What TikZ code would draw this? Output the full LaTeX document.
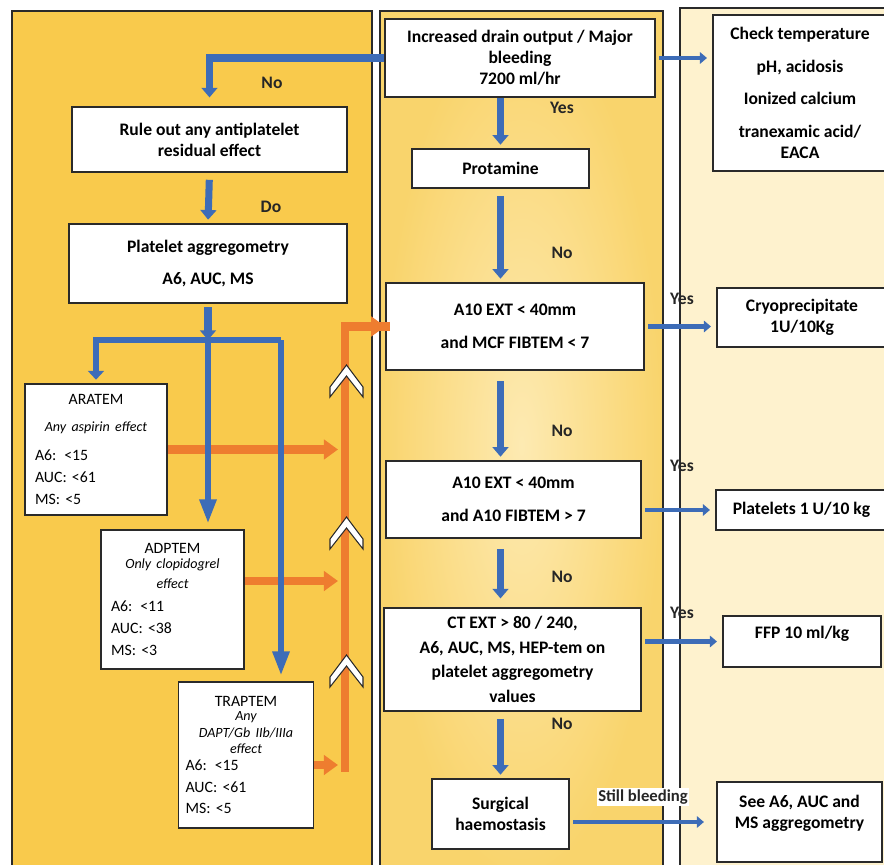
\documentclass[tikz,border=0pt]{standalone}
\usepackage{fontspec}
\setmainfont{Carlito}
\usetikzlibrary{arrows.meta,shadings}

\definecolor{panelA}{HTML}{F9CA4C}
\definecolor{panelB}{HTML}{F9D46C}
\definecolor{panelBlight}{HTML}{FDEAB2}
\definecolor{panelC}{HTML}{FEF2CE}
\definecolor{flowblue}{HTML}{3D6CB7}
\definecolor{floworange}{HTML}{EE7D2F}
\definecolor{edge}{HTML}{2A2A2A}
\newcommand{\effect}[1]{{\fontsize{8}{9.6}\selectfont\itshape #1}}

\begin{document}
\begin{tikzpicture}[x=0.02cm,y=-0.02cm,
    box/.style={draw=edge, line width=0.9pt, fill=white, align=center, font=\bfseries, inner sep=0pt},
    testbox/.style={draw=edge, line width=0.9pt, fill=white, align=left, font=\fontsize{9}{10.4}\selectfont, inner xsep=0.2cm, inner ysep=0pt},
    down/.style={draw=flowblue, line width=4pt, shorten <=4pt, shorten >=2pt, -{Triangle[width=9pt,length=5.5pt]}},
    probe/.style={draw=flowblue, line width=3.5pt, -{Triangle[width=9pt,length=14pt]}},
    side/.style={draw=flowblue, line width=2.6pt, shorten <=2pt, shorten >=3pt, -{Triangle[width=6.5pt,length=4pt]}},
    feed/.style={draw=floworange, line width=5pt, -{Triangle[width=11pt,length=8pt]}},
    tag/.style={font=\bfseries\fontsize{10}{12}\selectfont, text=black!85, inner sep=1pt}]
\useasboundingbox (0,0) rectangle (884,864);

% panels
\fill[white] (0,0) rectangle (884,864);
\filldraw[fill=panelA, draw=edge, line width=0.8pt] (12,11) rectangle (372,880);
\shade[inner color=panelBlight, outer color=panelB] (380,11) rectangle (663,880);
\draw[edge, line width=0.8pt] (380,11) rectangle (663,880);
\filldraw[fill=panelC, draw=edge, line width=0.8pt] (680,8) rectangle (900,880);

% middle column
\node[box, minimum width=5.4cm, minimum height=1.56cm] (drain) at (520,58)
  {Increased drain output / Major\\bleeding\\7200 ml/hr};
\node[box, minimum width=3.54cm, minimum height=0.78cm] (protamine) at (500.5,168.5) {Protamine};
\node[box, minimum width=5.16cm, minimum height=1.74cm] (mcf) at (515,326.5)
  {A10 EXT < 40mm\\[7pt]and MCF FIBTEM < 7};
\node[box, minimum width=5.1cm, minimum height=1.54cm] (fib) at (513.5,499.5)
  {A10 EXT < 40mm\\[7pt]and A10 FIBTEM > 7};
\node[box, minimum width=5.14cm, minimum height=2.06cm] (ctext) at (512.5,659.5)
  {CT EXT > 80 / 240,\\[2pt]A6, AUC, MS, HEP-tem on\\[2pt]platelet aggregometry\\[2pt]values};
\node[box, minimum width=2.74cm, minimum height=1.4cm] (surgical) at (500.5,814)
  {Surgical\\haemostasis};

% right column
\node[box, minimum width=3.48cm, minimum height=3.12cm] (check) at (800,93)
  {Check temperature\\[6.5pt]pH, acidosis\\[6.5pt]Ionized calcium\\[6.5pt]tranexamic acid/\\EACA};
\node[box, minimum width=3.4cm, minimum height=1.18cm] (cryo) at (802,317.5)
  {Cryoprecipitate\\1U/10Kg};
\node[box, minimum width=3.42cm, minimum height=0.8cm] (plt) at (801.5,510) {Platelets 1 U/10 kg};
\node[box, minimum width=3.16cm, minimum height=1.02cm] (ffp) at (802,641.5) {FFP 10 ml/kg\\[-2pt]\mbox{}};
\node[box, minimum width=3.3cm, minimum height=1.6cm] (see) at (799.5,822)
  {See A6, AUC and\\MS aggregometry\\\mbox{}};

% left column
\node[box, minimum width=5.5cm, minimum height=1.3cm] (rule) at (209.5,139.5)
  {Rule out any antiplatelet\\residual effect};
\node[box, minimum width=5.56cm, minimum height=1.58cm] (platelet) at (208,263.5)
  {Platelet aggregometry\\[6.5pt]A6, AUC, MS};
\node[testbox, text width=2.44cm, minimum height=2.62cm] (aratem) at (96,449.5)
  {{\centering ARATEM\\[5pt]\effect{Any aspirin effect}\par}\vspace{6pt}A6: <15\\[2pt]AUC: <61\\[2pt]MS: <5};
\node[testbox, text width=2.46cm, minimum height=2.78cm] (adptem) at (172.5,599.5)
  {{\centering ADPTEM\\[-2pt]\effect{Only clopidogrel}\\[1pt]\effect{effect}\par}\vspace{3pt}A6: <11\\[2pt]AUC: <38\\[2pt]MS: <3};
\node[testbox, text width=2.42cm, minimum height=2.92cm, inner xsep=0.14cm] (traptem) at (246,755)
  {{\centering TRAPTEM\\[-2pt]\effect{Any}\\[-1pt]\effect{DAPT/Gb IIb/IIIa}\\[-1pt]\effect{effect}\par}\vspace{-1pt}A6: <15\\[2pt]AUC: <61\\[2pt]MS: <5};

% orange feedback to the first test
\coordinate (ofoot) at (345,768);
\draw[feed, line cap=rect, -] (ofoot) |- (mcf.west);
\draw[feed] (ofoot) |- (mcf.west);
\draw[feed, shorten >=4pt] (aratem.east) -- (aratem.east -| ofoot);
\draw[feed, shorten >=4pt] ([yshift=0.37cm]adptem.east) -- ([yshift=0.37cm]adptem.east -| ofoot);
\draw[feed, shorten >=4pt] ([yshift=-0.2cm]traptem.east) -- ([yshift=-0.2cm]traptem.east -| ofoot);
\foreach \cy in {365,517,655}
  \filldraw[fill=white, draw=edge, line width=0.6pt]
    (330,\cy+22) -- (346.5,\cy) -- (363,\cy+22) -- (363,\cy+32) -- (346.5,\cy+11) -- (330,\cy+32) -- cycle;

% blue flow
\draw[down, shorten <=0pt, shorten >=5pt] (drain.west) -| (rule.north);
\draw[down] (rule.south) -- (platelet.north);
\coordinate (split) at (208,340);
\coordinate (splitR) at (281,340);
\draw[down, shorten <=2pt, shorten >=0pt] (platelet.south) -- (split);
\draw[flowblue, line width=3.5pt] (split) -- (splitR);
\draw[probe, -{Triangle[width=9pt,length=5pt]}, shorten >=2pt] (split) -| (aratem.north);
\draw[probe, shorten >=3pt] (split) -- (split |- adptem.north);
\draw[probe, shorten >=3pt] (splitR) -- (splitR |- traptem.north);

\draw[down, shorten <=0pt] (protamine.north |- drain.south) -- (protamine.north);
\draw[down] (protamine.south) -- (protamine.south |- mcf.north);
\draw[down, shorten <=6pt] (mcf.south -| protamine) -- (fib.north -| protamine);
\draw[down, shorten <=6pt, shorten >=5pt] (fib.south -| protamine) -- (ctext.north -| protamine);
\draw[down] (ctext.south -| protamine) -- (surgical.north);

\draw[side] (drain.east) -- (drain.east -| check.west);
\draw[side] (mcf.east) -- (mcf.east -| cryo.west);
\draw[side] (plt.west -| fib.east) -- (plt.west);
\draw[side] (ffp.west -| ctext.east) -- (ffp.west);
\draw[side, shorten >=7pt] (see.west -| surgical.east) -- (see.west);

% labels
\node[tag] (no1) at (272,83) {No};
\node[tag] (do1) at (271,207) {Do};
\node[tag] (yes1) at (562,108) {Yes};
\node[tag] (no2) at (562,253) {No};
\node[tag] (no3) at (562,431) {No};
\node[tag] (no4) at (562,577) {No};
\node[tag] (no5) at (562,724) {No};
\node[tag] (yes2) at (682,299) {Yes};
\node[tag] (yes3) at (682,466) {Yes};
\node[tag] (yes4) at (682,613) {Yes};
\node[tag, font=\bfseries\fontsize{9.5}{11}\selectfont, fill=white] (still) at (643,797) {Still bleeding};
\end{tikzpicture}
\end{document}
